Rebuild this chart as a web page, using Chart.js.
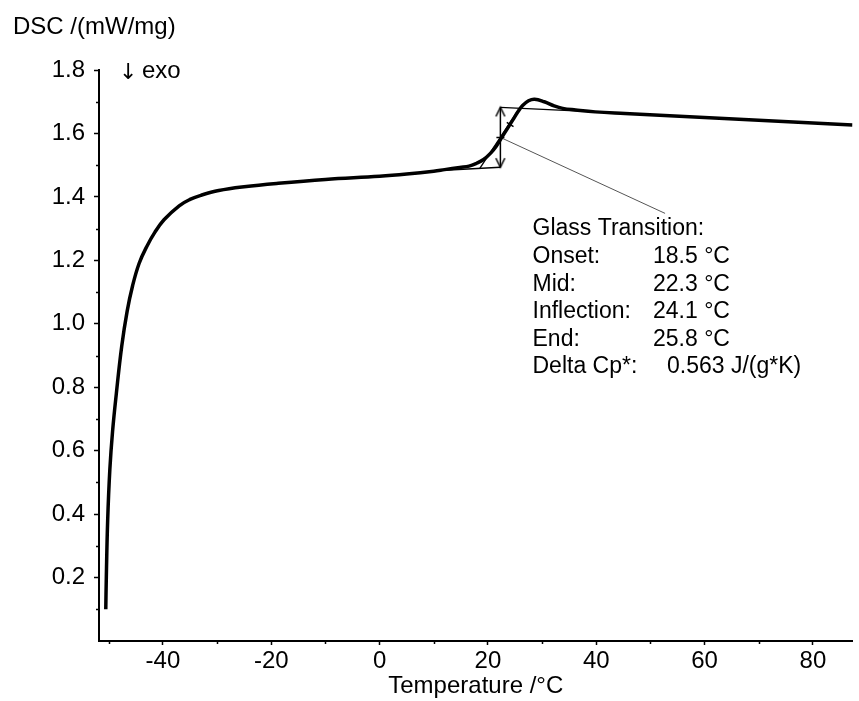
<!DOCTYPE html>
<html>
<head>
<meta charset="utf-8">
<script src="https://cdn.jsdelivr.net/npm/chart.js@4/dist/chart.umd.min.js"></script>
<style>
  html, body { margin: 0; padding: 0; background: #fff; }
  #wrap { width: 859px; height: 701px; }
</style>
</head>
<body>
<div id="wrap"><canvas id="dsc-canvas" width="859" height="701"></canvas></div>
<script>
// DSC heating curve, temperature in degC, signal in mW/mg
var tempC = [-50.55, -50.45, -50.2, -49.8, -49.3, -48.6, -47.6, -46.6, -45.6, -44.4,
             -43.0, -41.5, -39.8, -37.0, -35.0, -33.0, -29.7, -25.0, -18.7, -10.0,
             0.0, 5.0, 10.0, 12.0, 14.8, 16.5, 17.9, 19.2, 20.5, 21.5,
             22.5, 23.5, 24.6, 25.6, 26.4, 27.5, 28.6, 30.4, 32.2, 33.8,
             36.2, 39.8, 45.3, 63.6, 87.3];
var dscSignal = [0.10, 0.20, 0.38, 0.54, 0.66, 0.78, 0.93, 1.04, 1.12, 1.19,
                 1.243, 1.288, 1.328, 1.372, 1.392, 1.405, 1.420, 1.432, 1.443, 1.455,
                 1.465, 1.472, 1.481, 1.486, 1.493, 1.497, 1.506, 1.518, 1.538, 1.559,
                 1.586, 1.613, 1.643, 1.670, 1.688, 1.703, 1.708, 1.700, 1.687, 1.679,
                 1.674, 1.668, 1.663, 1.647, 1.627];

// glass transition evaluation
var tgOnset = 18.5, tgMid = 22.3, tgInflection = 24.1, tgEnd = 25.8;
var lowerBaseX = [12.0, 22.3],  lowerBaseY = [1.484, 1.4935];
var upperBaseX = [22.3, 40.0],  upperBaseY = [1.682, 1.668];
var tangentX = [tgOnset, tgEnd], tangentY = [1.490, 1.679];
var stepArrowY = [1.682, 1.4935];
var midY = 1.5875, inflectionY = 1.628;
var leaderX = [tgMid, 52.7], leaderY = [1.5875, 1.348];

var resultLabels = ['Onset:', 'Mid:', 'Inflection:', 'End:', 'Delta Cp*:'];
var resultValues = ['18.5 \u00B0C', '22.3 \u00B0C', '24.1 \u00B0C', '25.8 \u00B0C', '0.563 J/(g*K)'];

// axis ticks
var xTicks = [-40, -20, 0, 20, 40, 60, 80];
var xMinorTicks = [-50, -30, -10, 10, 30, 50, 70];
var yTicks = [0.2, 0.4, 0.6, 0.8, 1.0, 1.2, 1.4, 1.6, 1.8];
var yMinorTicks = [0.1, 0.3, 0.5, 0.7, 0.9, 1.1, 1.3, 1.5, 1.7];

var FONT = "'Liberation Sans', Arial, sans-serif";

function pts(xs, ys) {
    return xs.map(function(x, i) { return {x: x, y: ys[i]}; });
}

// open "V" arrow head, tip in the middle of the image
function arrowHead() {
    var c = document.createElement('canvas');
    c.width = 12; c.height = 22;
    var g = c.getContext('2d');
    g.strokeStyle = '#000';
    g.lineWidth = 1.5;
    g.beginPath();
    g.moveTo(1.5, 20); g.lineTo(6, 11); g.lineTo(10.5, 20);
    g.stroke();
    return c;
}
var head = arrowHead();

var minorTicks = {
    id: 'minorTicks',
    afterDraw: function(chart) {
        var ctx = chart.ctx, xs = chart.scales.x, ys = chart.scales.y, a = chart.chartArea;
        ctx.save();
        ctx.strokeStyle = '#000';
        ctx.lineWidth = 1.5;
        ctx.beginPath();
        yMinorTicks.forEach(function(v) {
            var p = Math.round(ys.getPixelForValue(v)) + 0.5;
            ctx.moveTo(a.left - 3, p); ctx.lineTo(a.left, p);
        });
        xMinorTicks.forEach(function(v) {
            var p = Math.round(xs.getPixelForValue(v)) + 0.5;
            ctx.moveTo(p, a.bottom); ctx.lineTo(p, a.bottom + 3);
        });
        ctx.stroke();
        ctx.restore();
    }
};

var annotations = {
    id: 'annotations',
    afterDraw: function(chart) {
        var ctx = chart.ctx;
        ctx.save();
        ctx.fillStyle = '#000';
        ctx.textBaseline = 'alphabetic';
        ctx.textAlign = 'left';
        ctx.font = '24px ' + FONT;
        ctx.fillText('DSC /(mW/mg)', 13, 33.5);
        ctx.fillText('exo', 142, 78);
        ctx.font = "22px 'DejaVu Sans', sans-serif";
        ctx.fillText('\u2193', 119, 79);

        ctx.font = '23px ' + FONT;
        ctx.fillText('Glass Transition:', 532.5, 235);
        var base = 263;
        resultLabels.forEach(function(t, i) {
            var y = base + i * 27.6;
            ctx.fillText(t, 532.5, y);
            ctx.fillText(resultValues[i], i === 4 ? 667 : 653, y);
        });
        ctx.restore();
    }
};

var ctx = document.getElementById('dsc-canvas').getContext('2d');
window.dscChart = new Chart(ctx, {
    type: 'line',
    data: {
        datasets: [{
            label: 'DSC',
            data: pts(tempC, dscSignal),
            borderColor: '#000',
            borderWidth: 3.5,
            pointRadius: 0,
            tension: 0.4,
            fill: false
        }, {
            label: 'lower baseline',
            data: pts(lowerBaseX, lowerBaseY),
            borderColor: '#000', borderWidth: 1.3, pointRadius: 0, fill: false
        }, {
            label: 'upper baseline',
            data: pts(upperBaseX, upperBaseY),
            borderColor: '#000', borderWidth: 1.3, pointRadius: 0, fill: false
        }, {
            label: 'tangent',
            data: pts(tangentX, tangentY),
            borderColor: '#000', borderWidth: 1.3, pointRadius: 0, fill: false
        }, {
            label: 'step height',
            data: pts([tgMid, tgMid], stepArrowY),
            borderColor: '#000', borderWidth: 1.5, fill: false,
            pointStyle: head, pointRadius: 5, rotation: [0, 180]
        }, {
            label: 'mid',
            data: [{x: tgMid, y: midY}],
            showLine: false,
            pointStyle: 'line', pointRadius: 4, borderColor: '#000', borderWidth: 1.5
        }, {
            label: 'inflection',
            data: [{x: tgInflection, y: inflectionY}],
            showLine: false,
            pointStyle: 'line', pointRadius: 4, rotation: 33, borderColor: '#000', borderWidth: 1.5
        }, {
            label: 'leader',
            data: pts(leaderX, leaderY),
            borderColor: '#555', borderWidth: 1, pointRadius: 0, fill: false
        }]
    },
    options: {
        responsive: false,
        devicePixelRatio: 1,
        animation: false,
        events: [],
        layout: { padding: { top: 70, left: 0, right: 0, bottom: 0 } },
        plugins: {
            legend: { display: false },
            tooltip: { enabled: false },
            title: { display: false }
        },
        scales: {
            x: {
                type: 'linear',
                min: -51.8,
                max: 87.3,
                afterFit: function(scale) { scale.height = 60; },
                afterBuildTicks: function(scale) {
                    scale.ticks = xTicks.map(function(v) { return {value: v}; });
                },
                grid: { display: true, drawOnChartArea: false, drawTicks: true,
                        tickLength: 4, tickColor: '#000', tickWidth: 1.5 },
                border: { display: true, color: '#000', width: 2 },
                ticks: {
                    color: '#000',
                    padding: 2,
                    maxRotation: 0,
                    font: { family: FONT, size: 24 },
                    callback: function(v) { return String(v); }
                },
                title: {
                    display: true,
                    text: 'Temperature /\u00B0C',
                    color: '#000',
                    padding: { top: 0, bottom: 0 },
                    font: { family: FONT, size: 24 }
                }
            },
            y: {
                type: 'linear',
                min: 0,
                max: 1.8,
                afterFit: function(scale) { scale.width = 99; },
                afterBuildTicks: function(scale) {
                    scale.ticks = yTicks.map(function(v) { return {value: v}; });
                },
                grid: { display: true, drawOnChartArea: false, drawTicks: true,
                        tickLength: 5, tickColor: '#000', tickWidth: 1.5 },
                border: { display: true, color: '#000', width: 2 },
                ticks: {
                    color: '#000',
                    padding: 9,
                    font: { family: FONT, size: 24 },
                    callback: function(v) { return Number(v).toFixed(1); }
                }
            }
        }
    },
    plugins: [minorTicks, annotations]
});
</script>
</body>
</html>
